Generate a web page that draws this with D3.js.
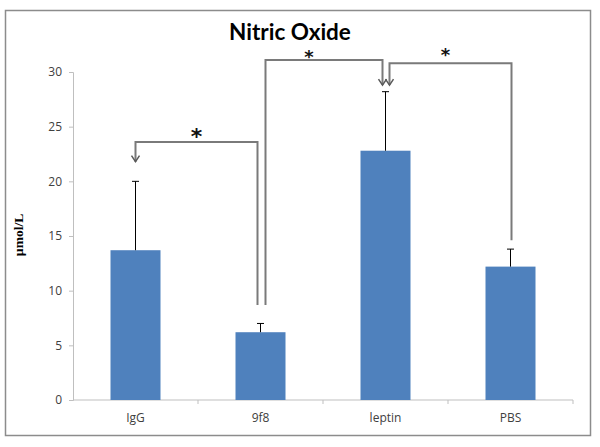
<!DOCTYPE html>
<html><head><meta charset="utf-8">
<script src="https://cdn.jsdelivr.net/npm/d3@7"></script>
<style>body{margin:0;background:#fff}</style>
</head><body>
<svg id="c" width="600" height="447"></svg>
<script>
const categories = ["IgG", "9f8", "leptin", "PBS"];
const means = [13.7, 6.2, 22.8, 12.2];
const errors = [6.3, 0.8, 5.4, 1.6];
const yTicks = [0, 5, 10, 15, 20, 25, 30];
// significance brackets: from category, to category, bracket height, start bottom value, arrow tip value
const bracketFrom = ["9f8", "9f8", "PBS"];
const bracketTo = ["IgG", "leptin", "leptin"];
const bracketTop = [23.6, 31.1, 30.8];
const bracketBottom = [8.7, 8.7, 14.6];
const bracketTip = [21.8, 28.8, 28.8];
const bracketLabel = ["*", "*", "*"];

const svg = d3.select("#c");
const m = {l: 73, r: 573, t: 72, b: 400};
const x = d3.scaleBand().domain(categories).range([m.l, m.r]);
const y = d3.scaleLinear().domain([0, 30]).range([m.b, m.t]);
const bw = x.bandwidth() * 0.4;

svg.append("rect").attr("x", 5.5).attr("y", 10.5).attr("width", 585).attr("height", 425)
  .attr("fill", "#fff").attr("stroke", "#8c8c8c").attr("stroke-width", 1.5);

svg.append("text").attr("x", 290).attr("y", 40).attr("text-anchor", "middle")
  .attr("font-family", "Lato, 'Open Sans', sans-serif").attr("font-weight", "bold")
  .attr("font-size", 22.5).attr("fill", "#000").text("Nitric Oxide");

// y axis
const ya = svg.append("g").attr("transform", `translate(${m.l},0)`)
  .call(d3.axisLeft(y).tickValues(yTicks).tickSize(4).tickPadding(7));
ya.select(".domain").attr("stroke", "#bfbfbf");
ya.selectAll(".tick line").attr("stroke", "#bfbfbf");
ya.selectAll("text").attr("font-family", "'Open Sans', sans-serif").attr("font-size", 12).attr("fill", "#404040");

// x axis
const xa = svg.append("g").attr("transform", `translate(0,${m.b})`)
  .call(d3.axisBottom(x).tickSize(0).tickPadding(13));
xa.select(".domain").attr("stroke", "#bfbfbf").attr("d", `M${m.l},0H${m.r}`);
xa.selectAll("text").attr("font-family", "'Open Sans', sans-serif").attr("font-size", 12).attr("fill", "#404040");
xa.selectAll(".bt").data(categories).enter().append("line")
  .attr("x1", d => x(d) + x.bandwidth()).attr("x2", d => x(d) + x.bandwidth())
  .attr("y1", 0).attr("y2", 4).attr("stroke", "#bfbfbf");

// y label
svg.append("text").attr("transform", `translate(23,235) rotate(-90)`).attr("text-anchor", "middle")
  .attr("font-family", "'Liberation Serif', serif").attr("font-weight", "bold").attr("font-size", 13.5)
  .text("µmol/L");

const cx = d => x(d) + x.bandwidth() / 2;

// bars
svg.selectAll(".bar").data(categories).enter().append("rect")
  .attr("x", d => cx(d) - bw / 2).attr("width", bw)
  .attr("y", (d, i) => y(means[i])).attr("height", (d, i) => y(0) - y(means[i]))
  .attr("fill", "#4f81bd");

// error bars
categories.forEach((d, i) => {
  const g = svg.append("g").attr("stroke", "#000").attr("stroke-width", 1);
  g.append("line").attr("x1", cx(d)).attr("x2", cx(d)).attr("y1", y(means[i])).attr("y2", y(means[i] + errors[i]));
  g.append("line").attr("x1", cx(d) - 3.5).attr("x2", cx(d) + 3.5).attr("y1", y(means[i] + errors[i])).attr("y2", y(means[i] + errors[i]));
});

// brackets
const offFrom = [-3, 5, 1];
const offTo = [0, -3, 4];
const starDx = [0, -15, -5];
const starDy = [2, 3, -2];
const starSize = [22, 18, 18];
bracketFrom.forEach((f, i) => {
  const x1 = cx(f) + offFrom[i], x2 = cx(bracketTo[i]) + offTo[i];
  const yt = y(bracketTop[i]), yb = y(bracketBottom[i]), ytip = y(bracketTip[i]);
  svg.append("path").attr("d", `M${x1},${yb}V${yt}H${x2}V${ytip}`)
    .attr("fill", "none").attr("stroke", "#7a7a7a").attr("stroke-width", 2);
  svg.append("path").attr("d", `M${x2 - 4},${ytip - 6}L${x2},${ytip}L${x2 + 4},${ytip - 6}`)
    .attr("fill", "none").attr("stroke", "#5a5a5a").attr("stroke-width", 1.5);
  svg.append("text").attr("x", (x1 + x2) / 2 + starDx[i]).attr("y", yt + starDy[i])
    .attr("text-anchor", "middle").attr("font-family", "'DejaVu Sans', sans-serif").attr("font-weight", "bold")
    .attr("font-size", starSize[i]).attr("fill", "#111").text(bracketLabel[i]);
});
</script>
</body></html>
